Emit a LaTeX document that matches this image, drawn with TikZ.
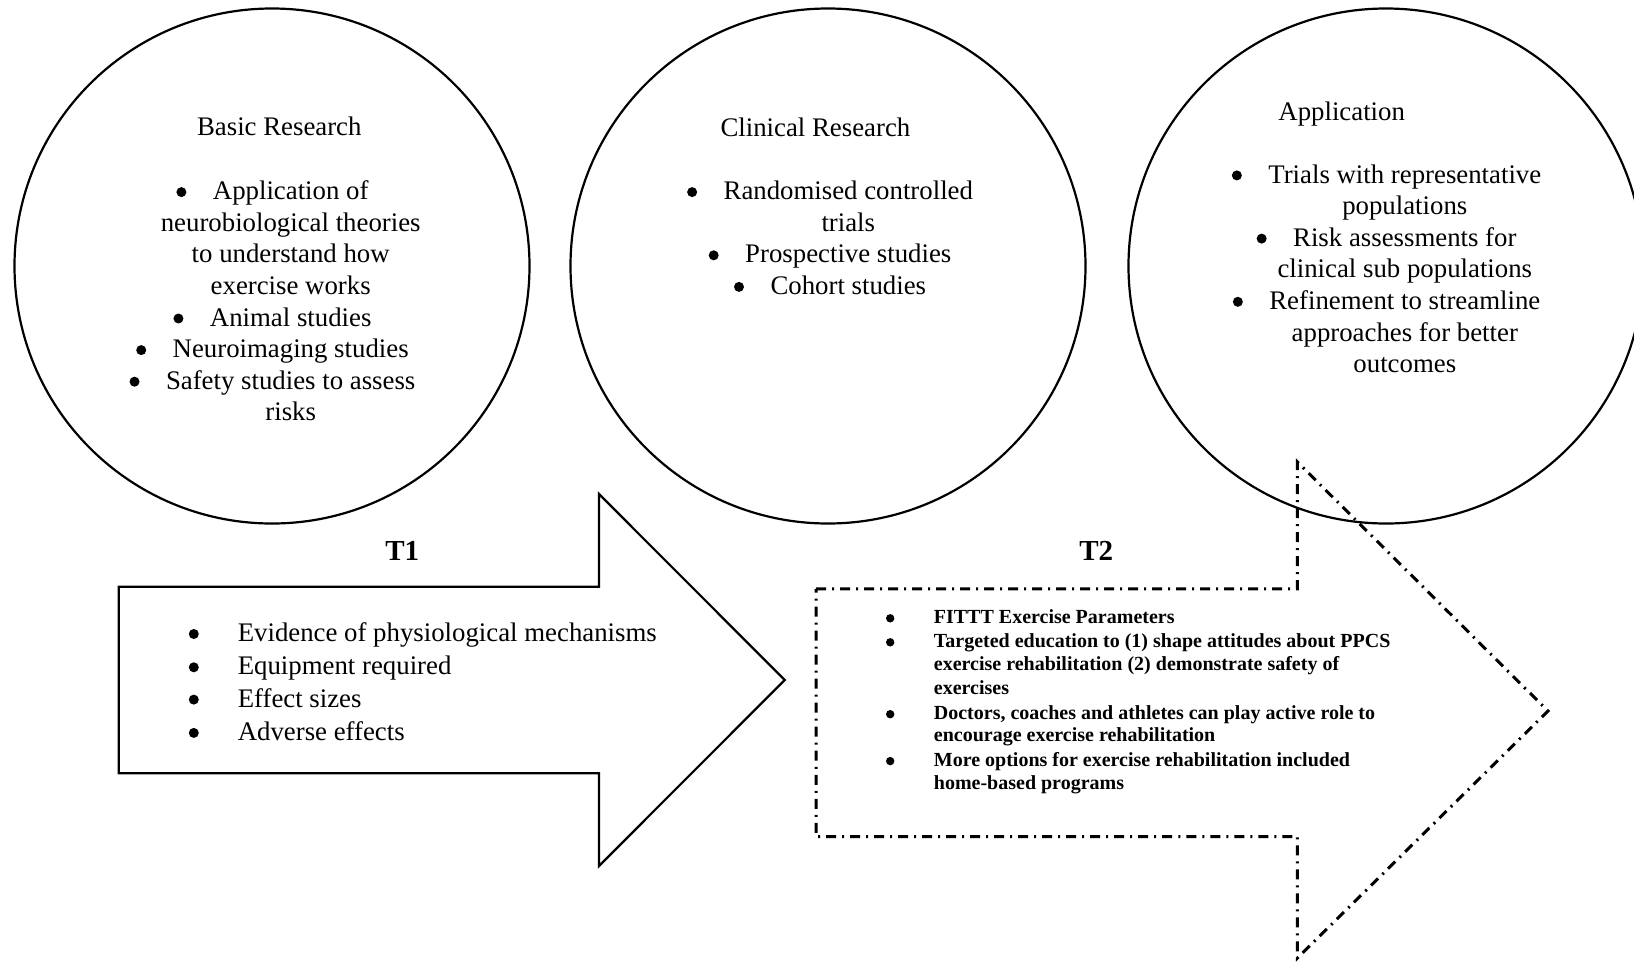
\documentclass[tikz,border=0pt]{standalone}
\usepackage{fontspec}
\setmainfont{Liberation Serif}
% round list bullet: #1 = gap to the text, #2 = radius, #3 = height of its centre
\newcommand{\dotmark}[3]{\llap{\tikz[baseline=0pt]{\fill (0pt,#3) circle (#2);}\hspace{#1}}}
\newcommand{\blt}{\dotmark{26.5pt}{5pt}{7.6pt}}
\newcommand{\bltw}{\dotmark{39pt}{5pt}{7.6pt}}
\newcommand{\blts}{\dotmark{39.5pt}{4.2pt}{5.6pt}}
\tikzset{
  ring/.style={draw, line width=2.2pt, circle, minimum size=515pt, inner sep=0pt},
  body/.style={font=\fontsize{26.8}{31.6}\selectfont, inner sep=0pt, anchor=base},
  bodyleft/.style={body, anchor=base west},
  small/.style={font=\bfseries\fontsize{20}{23.4}\selectfont, inner sep=0pt, anchor=base west},
  tag/.style={font=\bfseries\fontsize{29}{34}\selectfont, inner sep=0pt},
  solidarrow/.style={draw, line width=2.2pt, line join=miter},
  dasharrow/.style={draw, line width=3pt, line join=miter,
    dash pattern=on 10pt off 6pt on 2pt off 6pt},
}
\begin{document}
\begin{tikzpicture}[x=1pt, y=-1pt]
\useasboundingbox (0,0) rectangle (1634,962);

% three research stages
\node[ring] (basic) at (272,266) {};
\node[ring] (clinical) at (828,266) {};
\node[ring] (appl) at (1386,266) {};

% Basic research
\node[body] (bh) at (279.3,135) {Basic Research};
\foreach \t [count=\i] in {%
  {\blt Application of}, {neurobiological theories}, {to understand how},
  {exercise works}, {\blt Animal studies}, {\blt Neuroimaging studies},
  {\blt Safety studies to assess}, {risks}}
  \node[body] (b\i) at (290.7,168.1+31.6*\i) {\t};

% Clinical research
\node[body] (ch) at (815.4,136) {Clinical Research};
\foreach \t [count=\i] in {%
  {\blt Randomised controlled}, {trials}, {\blt Prospective studies},
  {\blt Cohort studies}}
  \node[body] (c\i) at (848.3,168.1+31.6*\i) {\t};

% Application
\node[body] (ah) at (1341.7,120.5) {Application};
\foreach \t [count=\i] in {%
  {\blt Trials with representative}, {populations}, {\blt Risk assessments for},
  {clinical sub populations}, {\blt Refinement to streamline},
  {approaches for better}, {outcomes}}
  \node[body] (a\i) at (1404.8,151.4+31.6*\i) {\t};

% T1 translation arrow
\draw[solidarrow] (118.8,586.7) -- (599,586.7) -- (599,494) -- (784.7,680)
  -- (599,866) -- (599,773.2) -- (118.8,773.2) -- cycle;
\node[tag] (t1) at (402.3,551.3) {T1};
\foreach \t/\y [count=\i] in {%
  {Evidence of physiological mechanisms}/641.6, {Equipment required}/674.9,
  {Effect sizes}/707.2, {Adverse effects}/740.5}
  \node[bodyleft] (p\i) at (237.6,\y) {\bltw\t};

% T2 translation arrow
\draw[dasharrow] (816,588.8) -- (1297.4,588.8) -- (1297.4,462) -- (1548,711)
  -- (1297.4,958) -- (1297.4,836.5) -- (816,836.5) -- cycle;
\node[tag] (t2) at (1096.3,551.3) {T2};
\node[small] (q1) at (933.7,623.9) {\blts FITTT Exercise Parameters};
\node[small] (q2) at (933.7,647.9) {\blts Targeted education to (1) shape attitudes about PPCS};
\node[small] (q3) at (933.7,670.8) {exercise rehabilitation (2) demonstrate safety of};
\node[small] (q4) at (933.7,694.8) {exercises};
\node[small] (q5) at (933.7,719.8) {\blts Doctors, coaches and athletes can play active role to};
\node[small] (q6) at (933.7,741.7) {encourage exercise rehabilitation};
\node[small] (q7) at (933.7,766.7) {\blts More options for exercise rehabilitation included};
\node[small] (q8) at (933.7,789.6) {home-based programs};
\end{tikzpicture}
\end{document}
